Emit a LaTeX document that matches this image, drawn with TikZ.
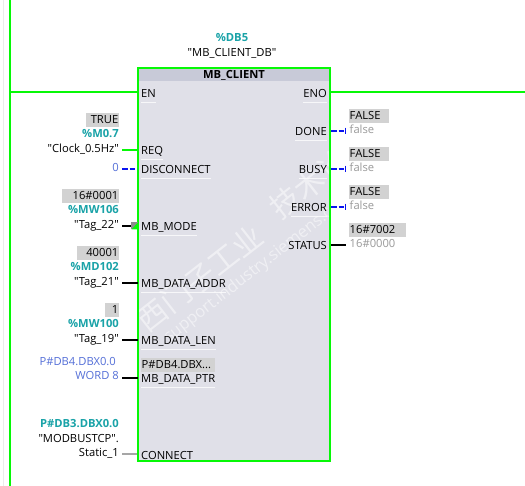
\documentclass[tikz,border=0pt]{standalone}
\usepackage{fontspec}
\setmainfont[Ligatures=TeXOff]{Open Sans}
\newfontfamily\cjkwm{Noto Sans CJK SC}
\definecolor{rung}{HTML}{06F806}
\definecolor{teal1}{HTML}{1AA3A8}
\definecolor{valblue}{HTML}{5570D8}
\definecolor{wireblue}{HTML}{0A14F0}
\definecolor{bodyg}{HTML}{E0E0E8}
\definecolor{headg}{HTML}{C8CAD8}
\definecolor{boxg}{HTML}{D2D2D2}
\definecolor{valg}{HTML}{9A9A9A}
\tikzset{
  x=1pt,y=-1pt,
  txt/.style={inner sep=0pt,font=\fontsize{11.2}{13}\selectfont,text height=9pt,text depth=1pt},
  pinl/.style={txt,anchor=west,text=black},
  pinr/.style={txt,anchor=east,text=black},
  tagr/.style={txt,anchor=east,text=black},
  addr/.style={txt,anchor=east,text=teal1,font=\fontsize{11.2}{13}\selectfont\bfseries},
  valr/.style={txt,anchor=east},
  vall/.style={txt,anchor=west},
  wire/.style={line width=2pt,black},
  gwire/.style={line width=2pt,rung},
  bwire/.style={line width=2pt,wireblue,dash pattern=on 5.5pt off 2pt},
  rail/.style={line width=2pt,rung},
  wm/.style={inner sep=0pt,text=white,opacity=.5,rotate=38},
}
\newcommand{\ul}[1]{\draw[white,line width=.8pt,opacity=.75] ([yshift=-3pt]#1.south west) -- ([yshift=-3pt]#1.south east);}
\begin{document}
\begin{tikzpicture}
\useasboundingbox (0,0) rectangle (525,486);
\fill[white] (0,0) rectangle (525,486);
\draw[black!8,line width=.8pt] (3.5,0) -- (3.5,486);
% block
\node[draw=none,fill=bodyg,minimum width=192pt,minimum height=393pt,anchor=north west,inner sep=0pt] (blk) at (138,68) {};
\fill[headg] (139,69) rectangle (329,81);
% watermark
\node[wm,font=\cjkwm\fontsize{30}{30}\selectfont] (wm1) at (200,278) {西门子工业};
\node[wm,font=\cjkwm\fontsize{30}{30}\selectfont] (wm2) at (321,175) {技术论坛};
\node[wm,font=\fontsize{16.5}{18}\selectfont] (wm3) at (267,261) {support.industry.siemens.com/cs};
\draw[rung,line width=2pt] (blk.north west) rectangle (blk.south east);
\node[txt,font=\fontsize{11.2}{13}\selectfont\bfseries] (title) at (234,75) {MB\_CLIENT};
\node[addr,anchor=center] (db) at (232,38) {\%DB5};
\node[txt,anchor=center] (dbn) at (232,53) {"MB\_CLIENT\_DB"};
% rails
\coordinate (railt) at (10,0); \coordinate (railb) at (10,486);
\coordinate (railj) at (10,92.5); \coordinate (railr) at (525,92.5);
\draw[rail] (railt) -- (railb);
% pins left
\node[pinl] (en) at (141,94) {EN};
\node[pinl] (req) at (141,151) {REQ};
\node[pinl] (disc) at (141,170) {DISCONNECT};
\node[pinl] (mode) at (141,227) {MB\_MODE};
\node[pinl] (maddr) at (141,284) {MB\_DATA\_ADDR};
\node[pinl] (mlen) at (141,341) {MB\_DATA\_LEN};
\node[pinl] (mptr) at (141,379) {MB\_DATA\_PTR};
\node[pinl] (conn) at (141,455) {CONNECT};
% pins right
\node[pinr] (eno) at (327,94) {ENO};
\node[pinr] (done) at (327,132) {DONE};
\node[pinr] (busy) at (327,170) {BUSY};
\node[pinr] (error) at (327,208) {ERROR};
\node[pinr] (status) at (327,246) {STATUS};
\foreach \n in {en,req,disc,mode,maddr,mlen,mptr,eno,done,busy,error} {\ul{\n}}
% left side values
\fill[boxg] (86,113) rectangle (119,127);
\node[valr] (v1) at (118.5,120) {TRUE};
\node[addr] (a1) at (119,134) {\%M0.7};
\node[tagr] (t1) at (119,149) {"Clock\_0.5Hz"};
\node[valr,text=valblue] (t2) at (119,168) {0};
\fill[boxg] (62,189) rectangle (119,203);
\node[valr] (v3) at (118.5,196) {16\#0001};
\node[addr] (a3) at (119,210) {\%MW106};
\node[tagr] (t3) at (119,225) {"Tag\_22"};
\fill[boxg] (77,246) rectangle (119,260);
\node[valr] (v4) at (118.5,253) {40001};
\node[addr] (a4) at (119,267) {\%MD102};
\node[tagr] (t4) at (119,282) {"Tag\_21"};
\fill[boxg] (105,303) rectangle (119,317);
\node[valr] (v5) at (118.5,310) {1};
\node[addr] (a5) at (119,323.5) {\%MW100};
\node[tagr] (t5) at (119,339) {"Tag\_19"};
\node[valr,text=valblue] (a6) at (116,362) {P\#DB4.DBX0.0};
\node[valr,text=valblue] (t6) at (119,376) {WORD 8};
\node[addr] (a7) at (119,423) {P\#DB3.DBX0.0};
\node[tagr] (n7) at (119,438) {"MODBUSTCP".};
\node[tagr] (t7) at (119,452) {Static\_1};
% in-block value
\fill[boxg] (141,358) rectangle (215,372);
\node[vall] (v6) at (141.5,365) {P\#DB4.DBX...};
% right side values
\fill[boxg] (349,109) rectangle (389,123);
\node[vall] (r1) at (349.5,116) {FALSE};
\node[vall,text=valg] (f1) at (349.5,130) {false};
\fill[boxg] (349,147) rectangle (389,161);
\node[vall] (r2) at (349.5,154) {FALSE};
\node[vall,text=valg] (f2) at (349.5,168) {false};
\fill[boxg] (349,185) rectangle (389,199);
\node[vall] (r3) at (349.5,192) {FALSE};
\node[vall,text=valg] (f3) at (349.5,206) {false};
\fill[boxg] (349,223) rectangle (406,237);
\node[vall] (r4) at (349.5,230) {16\#7002};
\node[vall,text=valg] (f4) at (349.5,244) {16\#0000};
% connectors
\draw[rail] (railj) -- (blk.west |- railj);
\draw[rail] (blk.east |- railj) -- (railr);
\draw[gwire] (122,149.7) -- (138,149.7);
\draw[bwire] (122,168.7) -- (137,168.7);
\draw[wire] (122,225.7) -- (131,225.7);
\fill[black!45] (131,222) rectangle (138,229.5);
\fill[rung] (138,222.5) -- (138,229.5) -- (131.5,229.5) -- cycle;
\draw[wire] (122,282.7) -- (138,282.7);
\draw[wire] (122,340) -- (138,340);
\draw[wire] (122,377.7) -- (138,377.7);
\draw[line width=2pt,black!35] (122,453.7) -- (137,453.7);
\foreach \y in {130.7,168.7,206.7}{
  \draw[bwire] (331,\y) -- (345,\y);
  \draw[line width=1.6pt,wireblue] (345.5,\y-3) -- (345.5,\y+3);
}
\draw[wire] (331,244.7) -- (346,244.7);
\end{tikzpicture}
\end{document}
